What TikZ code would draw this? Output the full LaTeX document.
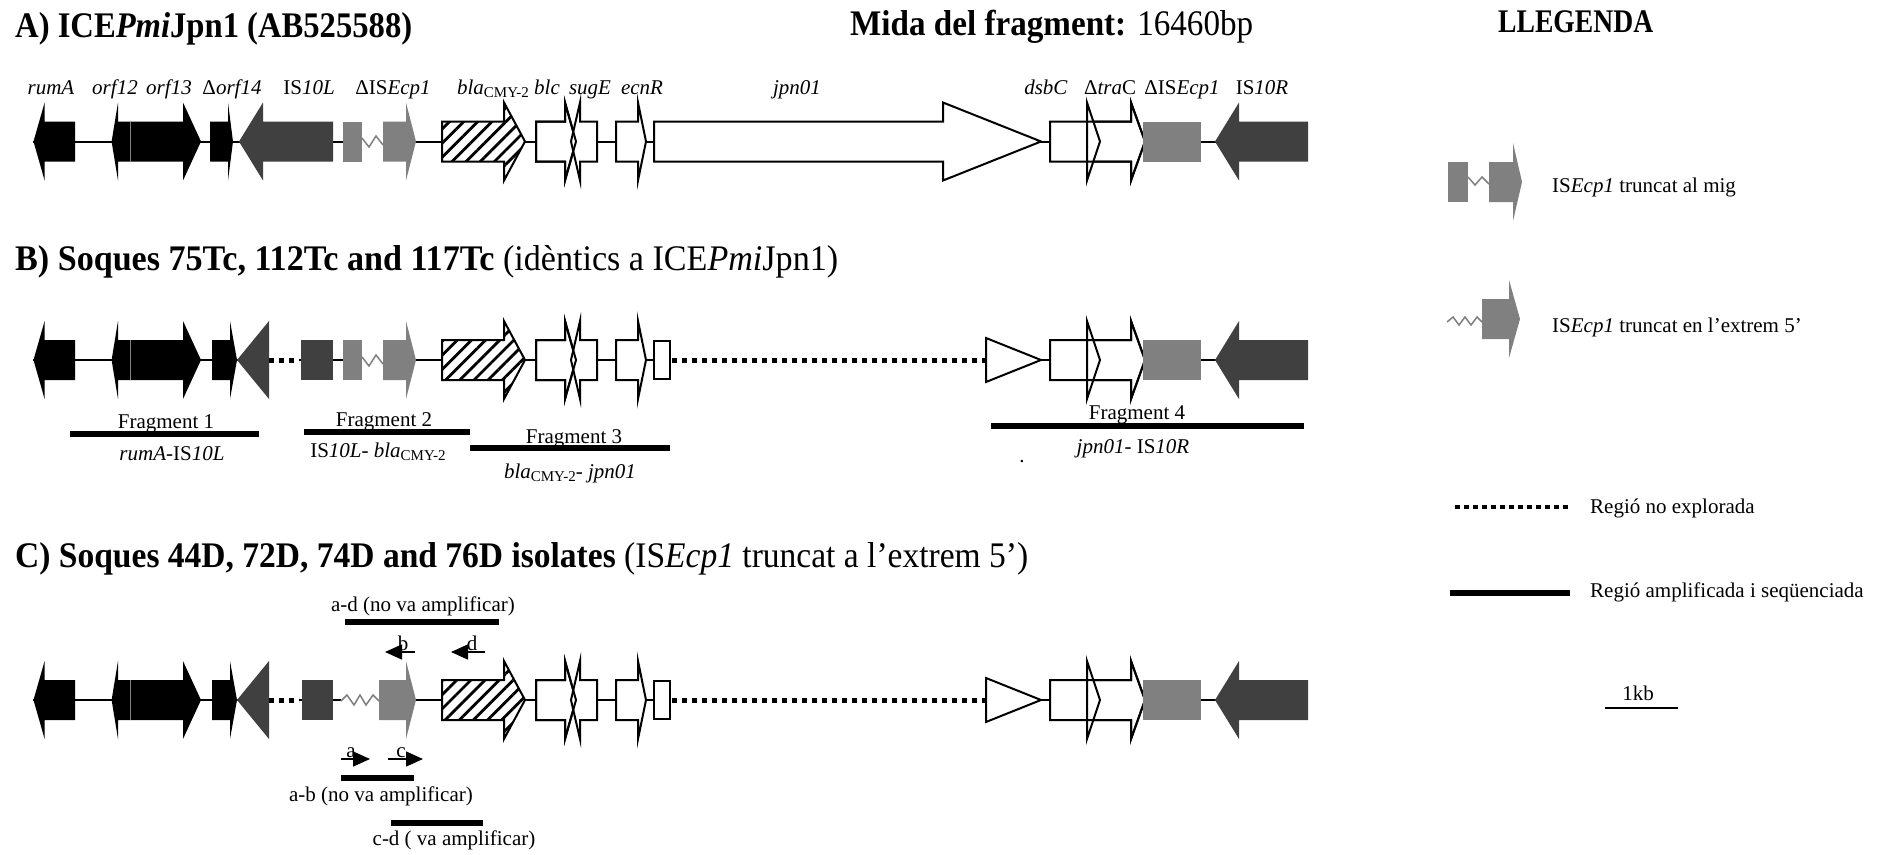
\documentclass[tikz,border=0pt]{standalone}
\usepackage{fontspec}
\setmainfont{Liberation Serif}
\usetikzlibrary{arrows.meta,patterns.meta}
\definecolor{dkg}{HTML}{404040}
\definecolor{mdg}{HTML}{808080}
\newsavebox\hbx
\newdimen\hdim
\newcommand\fitw[2]{\sbox\hbx{#2}\hdim=\wd\hbx\pgfmathsetmacro\fitr{#1/\the\hdim}\scalebox{\fitr}[1]{\usebox\hbx}}
\newcommand\blaCMY{\textit{bla}\raisebox{-0.35ex}{\fontsize{15}{15}\selectfont CMY-2}}
\newcommand\geneR[5]{\path[#1] (#2,#5-20) -- (#3,#5-20) -- (#3,#5-39) -- (#4,#5) -- (#3,#5+39) -- (#3,#5+20) -- (#2,#5+20) -- cycle;}
\newcommand\geneL[5]{\path[#1] (#2,#5) -- (#3,#5-39) -- (#3,#5-20) -- (#4,#5-20) -- (#4,#5+20) -- (#3,#5+20) -- (#3,#5+39) -- cycle;}
\newcommand\gbox[4]{\path[#1] (#2,#4-20) rectangle (#3,#4+20);}
\tikzset{
 blk/.style={fill=black},
 dark/.style={fill=dkg},
 grayf/.style={fill=mdg},
 wht/.style={fill=white,draw=black,line width=2pt,line join=miter},
 strk/.style={draw=black,line width=2pt,line join=miter},
 hatch/.style={preaction={fill=white},draw=black,line width=2pt,pattern={Lines[angle=45,distance=10pt,line width=2.8pt]}},
 bb/.style={line width=2pt},
 dots/.style={line width=5pt,dash pattern=on 5pt off 5pt},
 zz/.style={draw=mdg,line width=1.5pt},
 bar/.style={line width=6pt},
 lbl/.style={font=\fontsize{21}{21}\selectfont, inner sep=0pt, anchor=base},
 lblw/.style={font=\fontsize{21}{21}\selectfont, inner sep=0pt, anchor=base west},
 hd/.style={font=\fontsize{36}{36}\selectfont, inner sep=0pt, anchor=base west},
 primer/.style={line width=1.5pt,-{Triangle[length=17pt,width=15pt]}},
}
\newcommand\leftgenes[1]{%
 \geneL{blk}{33.5}{44.6}{75}{#1}
 \geneL{blk}{111.6}{118}{130}{#1}
 \geneR{blk}{130}{183}{201}{#1}
 \draw[draw=gray,line width=1pt] (130,#1-20) -- (130,#1+20);
}
\newcommand\midgenes[1]{%
 \geneR{hatch}{442}{504}{525}{#1}
 \geneR{wht}{536}{565}{576}{#1}
 \geneL{wht}{571}{580}{597}{#1}
 \geneR{strk}{536}{565}{576}{#1}
 \geneR{wht}{616}{638}{646}{#1}
}
\newcommand\rightgenes[1]{%
 \geneR{wht}{1087}{1131}{1145}{#1}
 \geneR{wht}{1050}{1087}{1100}{#1}
 \geneR{strk}{1087}{1131}{1145}{#1}
 \gbox{grayf}{1143}{1201}{#1}
 \geneL{dark}{1215}{1239}{1308}{#1}
}
\begin{document}
\begin{tikzpicture}[x=1pt,y=-1pt]
\useasboundingbox (0,0) rectangle (1886,854);
\fill[white] (0,0) rectangle (1886,854);

% headings
\node[hd] (hA) at (15,37) {\fitw{397}{\bfseries A) ICE\textit{Pmi}Jpn1 (AB525588)}};
\node[hd] (hM) at (850,35) {\fitw{403}{\textbf{Mida del fragment:} 16460bp}};
\node[hd,font=\fontsize{33}{33}\selectfont] (hL) at (1498,32) {\fitw{155}{\bfseries LLEGENDA}};
\node[hd] (hB) at (15,270) {\fitw{823}{\textbf{B) Soques 75Tc, 112Tc and 117Tc} (idèntics a ICE\textit{Pmi}Jpn1)}};
\node[hd] (hC) at (15,567) {\fitw{1013}{\textbf{C) Soques 44D, 72D, 74D and 76D isolates} (IS\textit{Ecp1} truncat a l’extrem 5’)}};

% ---------------- Row A
\def\cy{141.5}
\draw[bb] (33,\cy) -- (362,\cy);
\draw[bb] (383,\cy) -- (1308,\cy);
\leftgenes{\cy}
\geneR{blk}{210}{228}{233}{\cy}
\geneL{dark}{239}{263}{333}{\cy}
\gbox{grayf}{343}{362}{\cy}
\draw[zz] (362,138) -- (369,147) -- (376,136) -- (383,145);
\geneR{grayf}{383}{406}{416}{\cy}
\midgenes{\cy}
\geneR{wht}{654}{943}{1041}{\cy}
\rightgenes{\cy}

\node[lbl] (lA1) at (51,94) {\textit{rumA}};
\node[lbl] (lA2) at (115,94) {\textit{orf12}};
\node[lbl] (lA3) at (169,94) {\textit{orf13}};
\node[lbl] (lA4) at (232,94) {Δ\textit{orf14}};
\node[lbl] (lA5) at (309,94) {IS\textit{10L}};
\node[lbl] (lA6) at (393,94) {ΔIS\textit{Ecp1}};
\node[lbl] (lA7) at (493,94) {\blaCMY};
\node[lbl] (lA8) at (547,94) {\textit{blc}};
\node[lbl] (lA9) at (590,94) {\textit{sugE}};
\node[lbl] (lA10) at (642,94) {\textit{ecnR}};
\node[lbl] (lA11) at (797,94) {\textit{jpn01}};
\node[lbl] (lA12) at (1046,94) {\textit{dsbC}};
\node[lbl] (lA13) at (1110,94) {Δ\textit{tra}C};
\node[lbl] (lA14) at (1182,94) {ΔIS\textit{Ecp1}};
\node[lbl] (lA15) at (1262,94) {IS\textit{10R}};

% ---------------- Row B
\def\cy{360}
\draw[bb] (33,\cy) -- (269,\cy);
\draw[dots] (269,\cy) -- (299,\cy);
\draw[bb] (299,\cy) -- (362,\cy);
\draw[bb] (383,\cy) -- (654,\cy);
\draw[dots] (672,\cy) -- (986,\cy);
\draw[bb] (1041,\cy) -- (1308,\cy);
\leftgenes{\cy}
\geneR{blk}{212}{230}{237}{\cy}
\fill[dkg] (237,\cy) -- (269,\cy-39) -- (269,\cy+39) -- cycle;
\gbox{dark}{301}{333}{\cy}
\gbox{grayf}{343}{362}{\cy}
\draw[zz] (362,357) -- (369,366) -- (376,355) -- (383,364);
\geneR{grayf}{383}{406}{416}{\cy}
\midgenes{\cy}
\path[wht] (654,\cy-19) rectangle (670,\cy+19);
\path[wht] (986,\cy-22) -- (1041,\cy) -- (986,\cy+22) -- cycle;
\rightgenes{\cy}

\draw[bar] (70,434) -- (259,434);
\node[lbl] (f1) at (166,428) {Fragment 1};
\node[lbl] (f1b) at (172,460) {\textit{rumA}-IS\textit{10L}};
\draw[bar] (304,432) -- (470,432);
\node[lbl] (f2) at (384,426) {Fragment 2};
\node[lbl] (f2b) at (378,457) {IS\textit{10L}- \blaCMY};
\draw[bar] (470,448) -- (670,448);
\node[lbl] (f3) at (574,443) {Fragment 3};
\node[lbl] (f3b) at (570,478) {\blaCMY- \textit{jpn01}};
\draw[bar] (991,426) -- (1304,426);
\node[lbl] (f4) at (1137,419) {Fragment 4};
\node[lbl] (f4b) at (1133,453) {\textit{jpn01}- IS\textit{10R}};
\node[lbl] (dot) at (1022,462) {.};

% ---------------- Row C
\def\cy{700}
\draw[bb] (33,\cy) -- (269,\cy);
\draw[dots] (269,\cy) -- (299,\cy);
\draw[bb] (299,\cy) -- (341,\cy);
\draw[bb] (379,\cy) -- (654,\cy);
\draw[dots] (672,\cy) -- (986,\cy);
\draw[bb] (1041,\cy) -- (1308,\cy);
\leftgenes{\cy}
\geneR{blk}{212}{230}{237}{\cy}
\fill[dkg] (237,\cy) -- (269,\cy-39) -- (269,\cy+39) -- cycle;
\gbox{dark}{302}{333}{\cy}
\draw[zz] (341,701) -- (347,695) -- (354,705) -- (360,695) -- (366,705) -- (373,695) -- (379,701);
\geneR{grayf}{379}{406}{416}{\cy}
\midgenes{\cy}
\path[wht] (654,\cy-19) rectangle (670,\cy+19);
\path[wht] (986,\cy-22) -- (1041,\cy) -- (986,\cy+22) -- cycle;
\rightgenes{\cy}

% primers
\node[lbl] (ad) at (423,611) {a-d (no va amplificar)};
\draw[bar] (345,622) -- (499,622);
\coordinate (b0) at (415,652); \coordinate (b1) at (385,652);
\draw[primer] (b0) -- (b1);
\node[lbl] (pb) at (403,650) {b};
\coordinate (d0) at (485,652); \coordinate (d1) at (451,652);
\draw[primer] (d0) -- (d1);
\node[lbl] (pd) at (472,650) {d};
\coordinate (a0) at (341,759); \coordinate (a1) at (370,759);
\draw[primer] (a0) -- (a1);
\node[lbl] (pa) at (351,757) {a};
\coordinate (c0) at (388,759); \coordinate (c1) at (423,759);
\draw[primer] (c0) -- (c1);
\node[lbl] (pc) at (401,757) {c};
\draw[bar] (341,778) -- (414,778);
\node[lbl] (ab) at (381,801) {a-b (no va amplificar)};
\draw[bar] (391,823) -- (483,823);
\node[lbl] (cd) at (454,845) {c-d ( va amplificar)};

% ---------------- Legend
\gbox{grayf}{1448}{1468}{182}
\draw[zz] (1468,177) -- (1475,185) -- (1482,177) -- (1489,184);
\geneR{grayf}{1489}{1513}{1522}{182}
\node[lblw] (leg1) at (1552,192) {IS\textit{Ecp1} truncat al mig};
\draw[zz] (1447,322) -- (1453,317) -- (1459,325) -- (1465,317) -- (1471,325) -- (1477,317) -- (1482,322);
\geneR{grayf}{1482}{1509}{1520}{319}
\node[lblw] (leg2) at (1552,332) {IS\textit{Ecp1} truncat en l’extrem 5’};
\draw[line width=4.5pt,dash pattern=on 5pt off 4pt] (1455,507) -- (1571,507);
\node[lblw] (leg3) at (1590,513) {Regió no explorada};
\draw[bar] (1450,593) -- (1570,593);
\node[lblw] (leg4) at (1590,597) {Regió amplificada i seqüenciada};
\draw[line width=1.5pt] (1605,708) -- (1678,708);
\node[lbl] (kb) at (1638,700) {1kb};
\end{tikzpicture}
\end{document}
